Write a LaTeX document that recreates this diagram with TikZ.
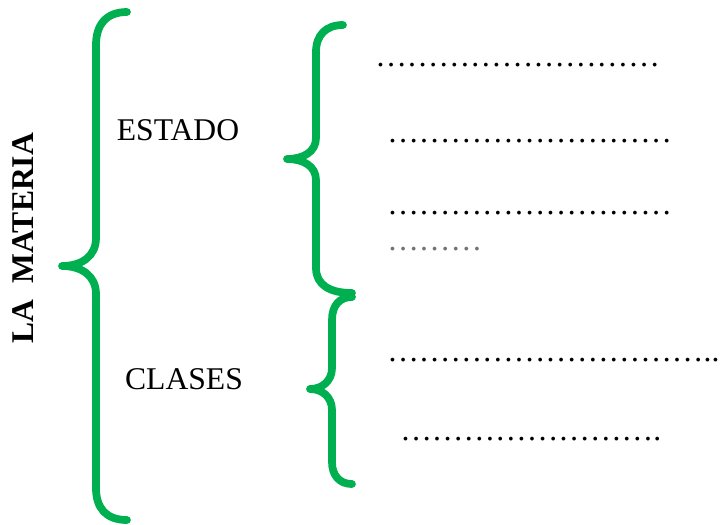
\documentclass[tikz,border=0pt]{standalone}
\usepackage{fontspec}
\setmainfont{Liberation Serif}
\definecolor{llavegreen}{RGB}{0,176,80}
\tikzset{
  llave/.style={draw=llavegreen, line width=4.4pt, line cap=round, line join=round},
  titulo/.style={font=\fontsize{18}{20}\selectfont},
  puntos/.style={font=\fontsize{18}{20}\selectfont, anchor=base west, inner sep=0pt}
}
\begin{document}
\begin{tikzpicture}[x=0.02cm, y=-0.02cm]
    \useasboundingbox (0,0) rectangle (720,524);

    % Llave grande
    \draw[llave] (127,12) .. controls (106,12) and (96,25) .. (96,45) -- (96,238)
        .. controls (96,256) and (82,266) .. (62,266)
        .. controls (82,266) and (96,276) .. (96,294) -- (96,488)
        .. controls (96,508) and (106,520) .. (127,520);

    % Llave del estado
    \draw[llave] (343,25) .. controls (326,25) and (316,35) .. (316,52) -- (316,138)
        .. controls (316,152) and (303,159) .. (287,159)
        .. controls (303,159) and (316,166) .. (316,180) -- (316,268)
        .. controls (316,285) and (330,293) .. (352,293);

    % Llave de las clases
    \draw[llave] (352,297) .. controls (340,297) and (332,305) .. (332,320) -- (332,368)
        .. controls (332,381) and (322,389) .. (310,389)
        .. controls (322,389) and (332,397) .. (332,410) -- (332,462)
        .. controls (332,476) and (340,484) .. (352,484);

    % Textos
    \node[titulo, font=\fontsize{18}{20}\selectfont\bfseries, rotate=90] (mat) at (23,238) {LA~~MATERIA};
    \node[titulo] (estado) at (178,130) {ESTADO};
    \node[titulo] (clases) at (184,379) {CLASES};

    % Lineas de puntos
    \node[puntos] (e1) at (375,66) {………………………};
    \node[puntos] (e2) at (387,142) {………………………};
    \node[puntos] (e3) at (387,214) {………………………};
    \node[puntos, text=black!55] (e4) at (387,250) {………};
    \node[puntos] (c1) at (387,361) {…………………………..};
    \node[puntos] (c2) at (400,440) {…………………….};

\end{tikzpicture}
\end{document}
